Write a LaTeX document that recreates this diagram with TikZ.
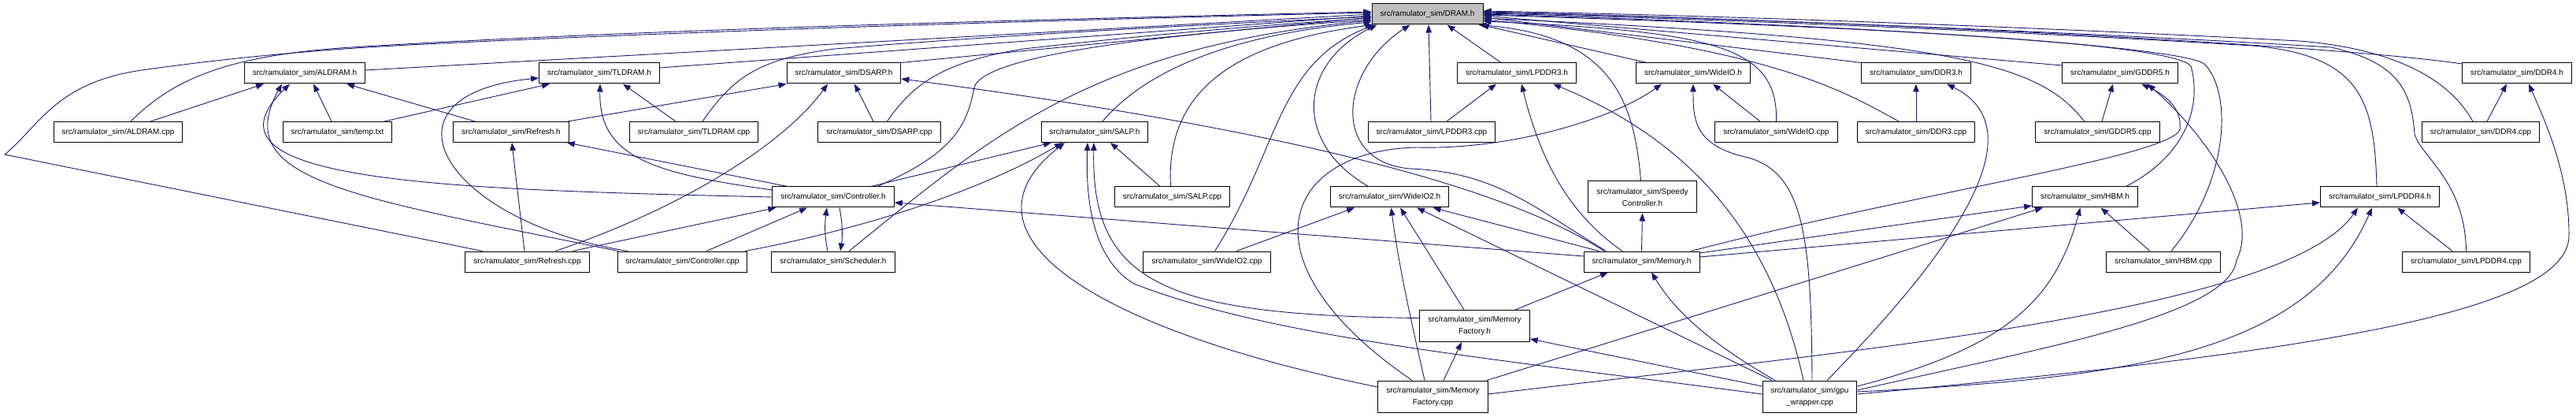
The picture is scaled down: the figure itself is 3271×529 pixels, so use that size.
\documentclass[tikz,border=0pt]{standalone}
\usepackage{fontspec}
\setmainfont{Liberation Sans}
\usetikzlibrary{arrows.meta, backgrounds}
\definecolor{edgeblue}{HTML}{191970}

\begin{document}
\begin{tikzpicture}[x=1pt, y=-1pt, font=\fontsize{10pt}{15pt}\selectfont,
    filebox/.style={draw, line width=1pt, fill=white, inner xsep=10.5pt, inner ysep=2pt, minimum height=26pt},
    twobox/.style={filebox, align=center, minimum height=40pt},
    incl/.style={draw=edgeblue, line width=0.9pt, -{Triangle[length=10pt, width=7.5pt]}}]
  \useasboundingbox (0,0) rectangle (3271,529);

  % row 1
  \node[filebox, fill=gray!50] (dramh) at (1812.5,18) {src/ramulator\_sim/DRAM.h};
  % row 2
  \node[filebox] (aldramh) at (387,93) {src/ramulator\_sim/ALDRAM.h};
  \node[filebox] (tldramh) at (761,93) {src/ramulator\_sim/TLDRAM.h};
  \node[filebox] (dsarph) at (1071.5,93) {src/ramulator\_sim/DSARP.h};
  \node[filebox] (lpddrthreeh) at (1926,93) {src/ramulator\_sim/LPDDR3.h};
  \node[filebox] (wideioh) at (2150,93) {src/ramulator\_sim/WideIO.h};
  \node[filebox] (ddrthreeh) at (2433,93) {src/ramulator\_sim/DDR3.h};
  \node[filebox] (gddrfiveh) at (2692,93) {src/ramulator\_sim/GDDR5.h};
  \node[filebox] (ddrfourh) at (3196,93) {src/ramulator\_sim/DDR4.h};
  % row 3
  \node[filebox] (aldramcpp) at (150,167.5) {src/ramulator\_sim/ALDRAM.cpp};
  \node[filebox] (temptxt) at (428.5,167.5) {src/ramulator\_sim/temp.txt};
  \node[filebox] (refreshh) at (649,167.5) {src/ramulator\_sim/Refresh.h};
  \node[filebox] (tldramcpp) at (881,167.5) {src/ramulator\_sim/TLDRAM.cpp};
  \node[filebox] (dsarpcpp) at (1116.5,167.5) {src/ramulator\_sim/DSARP.cpp};
  \node[filebox] (salph) at (1390,167.5) {src/ramulator\_sim/SALP.h};
  \node[filebox] (lpddrthreecpp) at (1818,167.5) {src/ramulator\_sim/LPDDR3.cpp};
  \node[filebox] (wideiocpp) at (2255.5,167.5) {src/ramulator\_sim/WideIO.cpp};
  \node[filebox] (ddrthreecpp) at (2433,167.5) {src/ramulator\_sim/DDR3.cpp};
  \node[filebox] (gddrfivecpp) at (2663.5,167.5) {src/ramulator\_sim/GDDR5.cpp};
  \node[filebox] (ddrfourcpp) at (3150,167.5) {src/ramulator\_sim/DDR4.cpp};
  % row 4
  \node[filebox] (controllerh) at (1058,250) {src/ramulator\_sim/Controller.h};
  \node[filebox] (salpcpp) at (1488.5,250) {src/ramulator\_sim/SALP.cpp};
  \node[filebox] (wideiotwoh) at (1764.5,250) {src/ramulator\_sim/WideIO2.h};
  \node[twobox] (speedyh) at (2085.5,250) {src/ramulator\_sim/Speedy\\Controller.h};
  \node[filebox] (hbmh) at (2647.5,250) {src/ramulator\_sim/HBM.h};
  \node[filebox] (lpddrfourh) at (3022,250) {src/ramulator\_sim/LPDDR4.h};
  % row 5
  \node[filebox] (refreshcpp) at (669.5,332) {src/ramulator\_sim/Refresh.cpp};
  \node[filebox] (controllercpp) at (866.5,332) {src/ramulator\_sim/Controller.cpp};
  \node[filebox] (schedulerh) at (1058,332) {src/ramulator\_sim/Scheduler.h};
  \node[filebox] (wideiotwocpp) at (1532.5,332) {src/ramulator\_sim/WideIO2.cpp};
  \node[filebox] (memoryh) at (2084.5,332) {src/ramulator\_sim/Memory.h};
  \node[filebox] (hbmcpp) at (2747,332) {src/ramulator\_sim/HBM.cpp};
  \node[filebox] (lpddrfourcpp) at (3131.5,332) {src/ramulator\_sim/LPDDR4.cpp};
  % rows 6 and 7
  \node[twobox] (memfactoryh) at (1872.5,413.5) {src/ramulator\_sim/Memory\\Factory.h};
  \node[twobox] (memfactorycpp) at (1819.5,503) {src/ramulator\_sim/Memory\\Factory.cpp};
  \node[twobox] (gpuwrapper) at (2298,503) {src/ramulator\_sim/gpu\\\_wrapper.cpp};

  \begin{scope}[on background layer]
    % into DRAM.h from the left
    \draw[incl] ([xshift=16pt]aldramcpp.north) .. controls (220,100) and (290,70) .. (446,60) .. controls (800,38) and (1300,25) .. ([yshift=3pt]dramh.west);
    \draw[incl] ([xshift=-57pt]refreshcpp.north) -- (6,196) .. controls (50,160) and (70,105) .. (180,89) .. controls (300,72) and (420,62) .. (520,57) .. controls (900,38) and (1400,24) .. ([yshift=2pt]dramh.west);
    \draw[incl] ([yshift=4pt]aldramh.east) -- (dramh.west);
    \draw[incl] ([yshift=7pt]tldramh.east) -- ([yshift=-2pt]dramh.west);
    \draw[incl] ([xshift=11pt]tldramcpp.north) .. controls (930,100) and (960,75) .. (1060,62) .. controls (1300,42) and (1600,28) .. ([yshift=-3pt]dramh.west);
    \draw[incl] (dsarph.north east) -- ([yshift=-4pt]dramh.west);
    \draw[incl] ([xshift=10pt]dsarpcpp.north) .. controls (1160,105) and (1200,78) .. (1300,62) .. controls (1450,45) and (1600,32) .. ([yshift=-5pt]dramh.west);
    \draw[incl] ([xshift=56pt]controllerh.north) .. controls (1210,195) and (1228,160) .. (1237,111) .. controls (1248,72) and (1450,45) .. ([yshift=-7pt]dramh.west);
    \draw[incl] ([xshift=20pt]schedulerh.north) .. controls (1250,180) and (1380,60) .. ([yshift=-8pt]dramh.west);
    \draw[incl] ([xshift=10pt]salph.north) .. controls (1450,95) and (1550,45) .. ([yshift=-10pt]dramh.west);
    \draw[incl] ([xshift=-2pt]salpcpp.north) .. controls (1480,120) and (1560,55) .. ([xshift=2pt]dramh.south west);
    \draw[incl] ([xshift=10pt]wideiotwocpp.north) .. controls (1625,190) and (1620,80) .. ([xshift=4pt]dramh.south west);
    \draw[incl] ([xshift=-27pt]wideiotwoh.north) .. controls (1640,180) and (1650,80) .. ([xshift=7pt]dramh.south west);
    % into DRAM.h from below
    \draw[incl] ([xshift=-45pt]memoryh.north) .. controls (1950,265) and (1900,218) .. (1790,214) .. controls (1690,205) and (1700,90) .. ([xshift=-22pt]dramh.south);
    \draw[incl] ([xshift=-1pt]lpddrthreecpp.north) -- ([xshift=1.5pt]dramh.south);
    \draw[incl] ([xshift=-20pt]lpddrthreeh.north) -- ([xshift=25pt]dramh.south);
    \draw[incl] ([xshift=-2pt]speedyh.north) .. controls (2075,120) and (2040,45) .. ([xshift=-6pt]dramh.south east);
    \draw[incl] ([xshift=-59pt]wideioh.north) -- ([xshift=-3pt]dramh.south east);
    % into DRAM.h from the right
    \draw[incl] (wideiocpp.north) .. controls (2258,60) and (2180,40) .. ([yshift=-9pt]dramh.east);
    \draw[incl] (ddrthreeh.north west) -- ([yshift=-4pt]dramh.east);
    \draw[incl] ([xshift=-22pt]ddrthreecpp.north) .. controls (2340,115) and (2250,60) .. ([yshift=-7pt]dramh.east);
    \draw[incl] ([yshift=10pt]gddrfiveh.west) -- ([yshift=-2pt]dramh.east);
    \draw[incl] ([xshift=-17pt]gddrfivecpp.north) .. controls (2590,80) and (2480,50) .. ([yshift=-5pt]dramh.east);
    \draw[incl] ([xshift=52pt]hbmh.north) .. controls (2780,195) and (2795,130) .. (2782,84) .. controls (2760,55) and (2400,35) .. ([yshift=-1pt]dramh.east);
    \draw[incl] ([xshift=10pt]hbmcpp.north) .. controls (2830,230) and (2835,120) .. (2800,82) .. controls (2780,60) and (2400,33) .. (dramh.east);
    \draw[incl] ([xshift=-4pt]lpddrfourh.north) .. controls (3015,130) and (3000,70) .. (2860,58) .. controls (2500,36) and (2100,22) .. ([yshift=1pt]dramh.east);
    \draw[incl] (lpddrfourcpp.north) .. controls (3130,230) and (3075,200) .. (3066,170) .. controls (3062,120) and (3050,80) .. (2960,60) .. controls (2600,38) and (2100,20) .. ([yshift=2pt]dramh.east);
    \draw[incl] ([yshift=12pt]ddrfourh.west) .. controls (2950,55) and (2300,25) .. ([yshift=3pt]dramh.east);
    \draw[incl] ([xshift=-10pt]ddrfourcpp.north) .. controls (3110,100) and (3040,62) .. (2920,52) .. controls (2500,30) and (2100,18) .. ([yshift=4pt]dramh.east);

    % left group
    \draw[incl] ([xshift=41pt]aldramcpp.north) -- ([xshift=-52pt]aldramh.south);
    \draw[incl] ([xshift=-7.5pt]temptxt.north) -- ([xshift=11pt]aldramh.south);
    \draw[incl] ([xshift=59.5pt]temptxt.north) -- ([xshift=-63pt]tldramh.south);
    \draw[incl] ([xshift=-46pt]refreshh.north) -- ([xshift=53pt]aldramh.south);
    \draw[incl] ([xshift=72pt]refreshh.north) -- (dsarph.south west);
    \draw[incl] ([xshift=-3.5pt]refreshcpp.north) -- ([xshift=1pt]refreshh.south);
    \draw[incl] ([xshift=57.5pt]refreshcpp.north) -- ([xshift=5pt]controllerh.south west);
    \draw[incl] ([xshift=35.5pt]refreshcpp.north) .. controls (850,270) and (990,190) .. ([xshift=-20.5pt]dsarph.south);
    \draw[incl] ([xshift=-81.5pt]controllercpp.north) .. controls (450,250) and (290,230) .. ([xshift=-29pt]aldramh.south);
    \draw[incl] (controllerh.west) .. controls (550,240) and (240,230) .. ([xshift=-19pt]aldramh.south);
    \draw[incl] ([xshift=-69.5pt]controllercpp.north) .. controls (560,280) and (470,120) .. ([yshift=-6pt]tldramh.west);
    \draw[incl] ([yshift=9pt]controllerh.west) .. controls (830,220) and (760,200) .. ([xshift=1pt]tldramh.south);
    \draw[incl] ([xshift=-58pt]controllerh.north) -- ([xshift=-3pt]refreshh.south east);
    \draw[incl] ([xshift=30.5pt]controllercpp.north) -- ([xshift=-33pt]controllerh.south);
    \draw[incl] ([xshift=79.5pt]controllercpp.north) .. controls (1100,290) and (1250,240) .. ([xshift=-41pt]salph.south);
    \draw[incl] ([xshift=48pt]controllerh.north) -- ([xshift=-55pt]salph.south);
    \draw[incl] ([xshift=8pt]controllerh.south) .. controls (1070,285) and (1070,300) .. ([xshift=9pt]schedulerh.north);
    \draw[incl] ([xshift=-7pt]schedulerh.north) .. controls (1047,300) and (1047,285) .. ([xshift=-8pt]controllerh.south);
    \draw[incl] ([xshift=-23pt]tldramcpp.north) -- ([xshift=30pt]tldramh.south);
    \draw[incl] ([xshift=-7.5pt]dsarpcpp.north) -- ([xshift=13.5pt]dsarph.south);
    \draw[incl] ([xshift=-15.5pt]salpcpp.north) -- ([xshift=20pt]salph.south);

    % Memory.h
    \draw[incl] ([xshift=-47.5pt]memoryh.north) .. controls (1900,230) and (1600,160) .. ([yshift=-7pt]dsarph.east);
    \draw[incl] ([yshift=7pt]memoryh.west) -- ([yshift=-7pt]controllerh.east);
    \draw[incl] ([xshift=-54pt]memoryh.north) -- ([xshift=55pt]wideiotwoh.south);
    \draw[incl] ([xshift=-24.5pt]memoryh.north) .. controls (1990,270) and (1955,200) .. ([xshift=6pt]lpddrthreeh.south);
    \draw[incl] (memoryh.north) -- (speedyh.south);
    \draw[incl] ([xshift=62.5pt]memoryh.north) .. controls (2450,240) and (2782,195) .. (2768,160) .. controls (2770,135) and (2745,118) .. ([xshift=27pt]gddrfiveh.south);
    \draw[incl] ([yshift=11pt]memoryh.east) -- ([yshift=-11pt]hbmh.west);
    \draw[incl] ([yshift=6pt]memoryh.east) -- ([yshift=-7pt]lpddrfourh.west);
    \draw[incl] ([xshift=37.5pt]wideiotwocpp.north) -- ([xshift=-44.5pt]wideiotwoh.south);

    % MemoryFactory
    \draw[incl] ([xshift=51.5pt]memfactoryh.north) -- ([xshift=-42.5pt]memoryh.south);
    \draw[incl] ([xshift=-13.5pt]memfactoryh.north) -- ([xshift=13.5pt]wideiotwoh.south);
    \draw[incl] ([yshift=10pt]memfactoryh.west) .. controls (1480,400) and (1385,360) .. ([xshift=-1pt]salph.south);
    \draw[incl] ([xshift=13.5pt]memfactorycpp.north) -- ([xshift=-16.5pt]memfactoryh.south);
    \draw[incl] ([xshift=-10.5pt]memfactorycpp.north) .. controls (1790,400) and (1775,330) .. ([xshift=2pt]wideiotwoh.south);
    \draw[incl] ([yshift=12pt]memfactorycpp.west) .. controls (1400,420) and (1200,300) .. ([xshift=-38pt]salph.south);
    \draw[incl] ([xshift=-26.5pt]memfactorycpp.north) .. controls (1570,330) and (1630,190) .. (1800,187) .. controls (1920,190) and (2050,150) .. ([xshift=-40pt]wideioh.south);
    \draw[incl] ([xshift=68.5pt]memfactorycpp.north) -- ([xshift=-53.5pt]hbmh.south);
    \draw[incl] ([yshift=3pt]memfactorycpp.east) .. controls (2300,450) and (2900,400) .. ([xshift=-28pt]lpddrfourh.south);

    % gpu_wrapper.cpp
    \draw[incl] ([yshift=13pt]gpuwrapper.west) -- ([yshift=-16.5pt]memfactoryh.east);
    \draw[incl] ([xshift=-44pt]gpuwrapper.north) .. controls (2180,440) and (2130,400) .. ([xshift=12.5pt]memoryh.south);
    \draw[incl] ([xshift=-48pt]gpuwrapper.north) -- ([xshift=34.5pt]wideiotwoh.south);
    \draw[incl] ([yshift=3pt]gpuwrapper.west) .. controls (1900,455) and (1620,430) .. (1440,360) .. controls (1390,330) and (1378,260) .. ([xshift=-9pt]salph.south);
    \draw[incl] ([xshift=-8pt]gpuwrapper.north) .. controls (2250,300) and (2150,180) .. ([xshift=46pt]lpddrthreeh.south);
    \draw[incl] ([xshift=3pt]gpuwrapper.north) .. controls (2300,300) and (2290,220) .. (2220,200) .. controls (2150,185) and (2150,150) .. (wideioh.south);
    \draw[incl] ([xshift=22pt]gpuwrapper.north) .. controls (2450,350) and (2600,170) .. ([xshift=39pt]ddrthreeh.south);
    \draw[incl] ([yshift=13pt]gpuwrapper.east) .. controls (2550,440) and (2610,380) .. ([xshift=-6pt]hbmh.south);
    \draw[incl] ([yshift=8pt]gpuwrapper.east) .. controls (2600,440) and (2830,400) .. (2840,330) .. controls (2870,270) and (2800,170) .. ([xshift=35pt]gddrfiveh.south);
    \draw[incl] ([yshift=6pt]gpuwrapper.east) .. controls (2700,480) and (2930,450) .. ([xshift=-10pt]lpddrfourh.south);
    \draw[incl] ([yshift=3pt]gpuwrapper.east) .. controls (2900,450) and (3260,400) .. (3262,300) .. controls (3263,220) and (3230,150) .. ([xshift=15pt]ddrfourh.south);

    % source files to their headers
    \draw[incl] ([xshift=19pt]lpddrthreecpp.north) -- ([xshift=-26pt]lpddrthreeh.south);
    \draw[incl] ([xshift=-20.5pt]wideiocpp.north) -- ([xshift=25pt]wideioh.south);
    \draw[incl] (ddrthreecpp.north) -- (ddrthreeh.south);
    \draw[incl] ([xshift=5.5pt]gddrfivecpp.north) -- ([xshift=-9pt]gddrfiveh.south);
    \draw[incl] ([xshift=-17pt]hbmcpp.north) -- ([xshift=20pt]hbmh.south);
    \draw[incl] ([xshift=-17.5pt]lpddrfourcpp.north) -- ([xshift=22pt]lpddrfourh.south);
    \draw[incl] ([xshift=8pt]ddrfourcpp.north) -- ([xshift=-13pt]ddrfourh.south);
  \end{scope}
\end{tikzpicture}
\end{document}
